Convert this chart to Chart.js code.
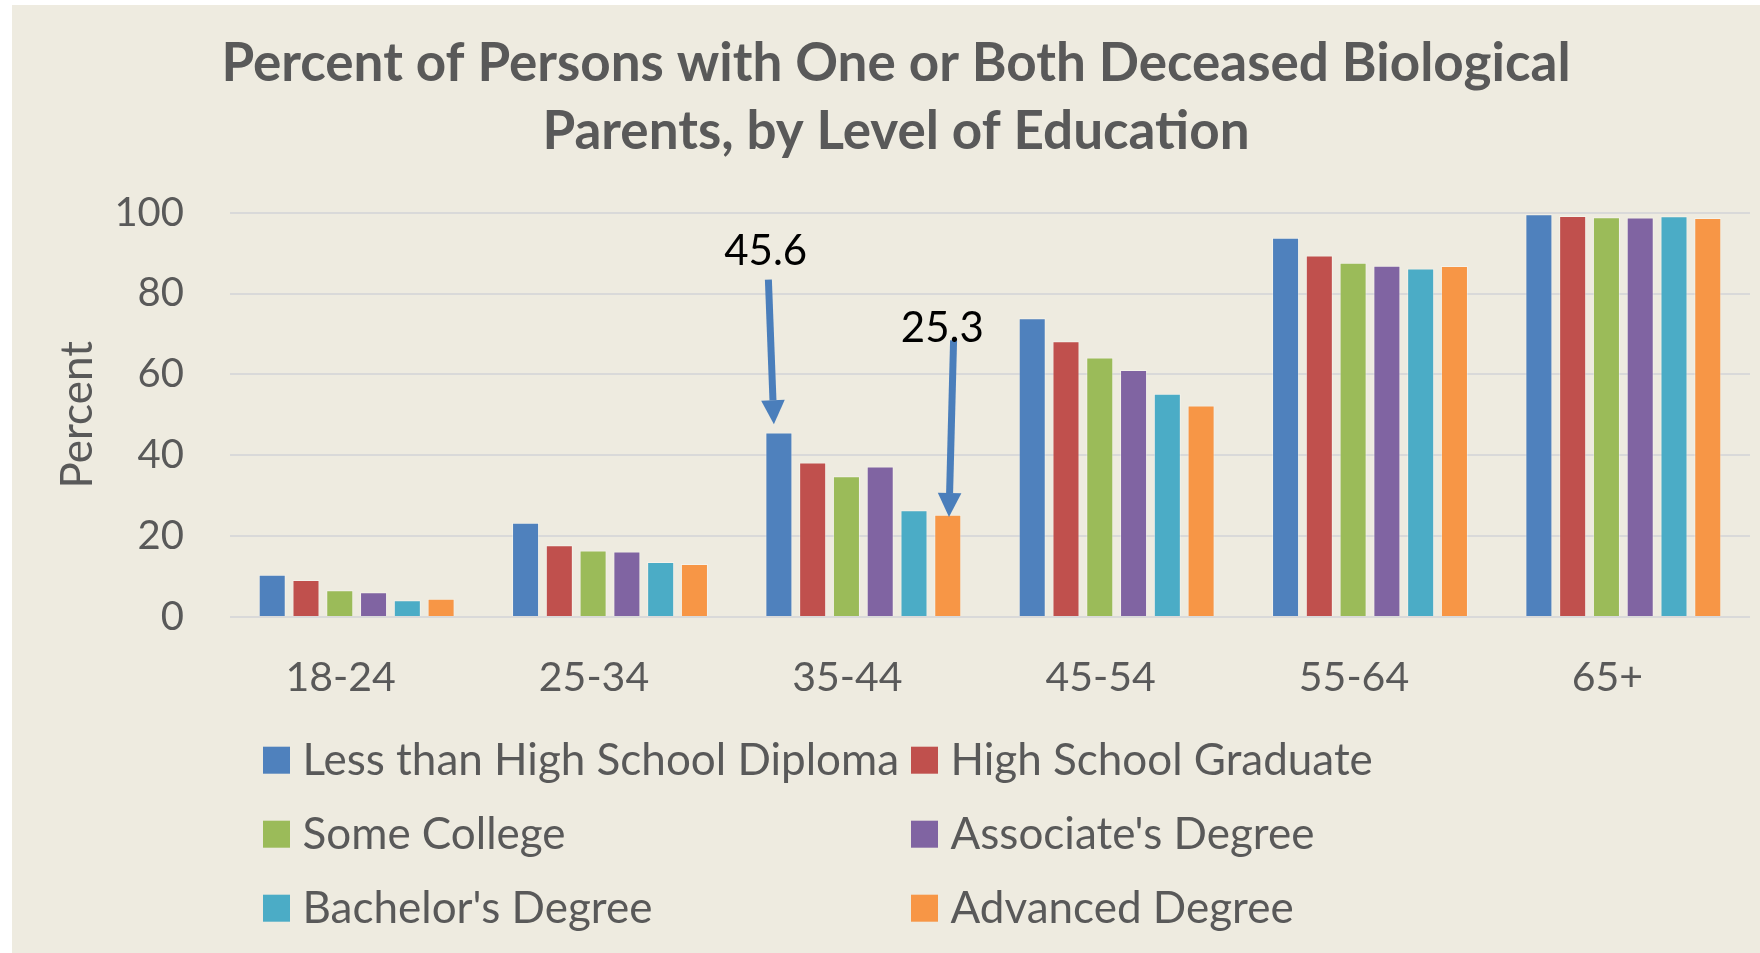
<!DOCTYPE html>
<html>
<head>
<meta charset="utf-8">
<script src="https://cdn.jsdelivr.net/npm/chart.js@4"></script>
<style>
  html, body { margin: 0; padding: 0; background: #ffffff; }
  #wrap { width: 1760px; height: 953px; position: relative; }
</style>
</head>
<body>
<div id="wrap"><canvas id="eduChart"></canvas></div>
<script>
// Data
const ageGroups = ['18-24', '25-34', '35-44', '45-54', '55-64', '65+'];
const lessThanHS = [10.4, 23.3, 45.6, 73.9, 93.8, 99.6];
const hsGraduate = [9.1, 17.7, 38.2, 68.2, 89.4, 99.2];
const someCollege = [6.6, 16.4, 34.8, 64.2, 87.6, 98.9];
const associates = [6.1, 16.2, 37.2, 61.1, 86.9, 98.8];
const bachelors = [4.1, 13.6, 26.4, 55.2, 86.2, 99.1];
const advanced = [4.5, 13.1, 25.3, 52.3, 86.8, 98.7];
const yTicks = [0, 20, 40, 60, 80, 100];

const textGray = '#595959';
const bgColor = '#EEEBE0';

// background: beige panel with thin white edge on top/left
const bgPlugin = {
    id: 'bg',
    beforeDraw(chart) {
        const ctx = chart.ctx;
        ctx.save();
        ctx.fillStyle = '#ffffff';
        ctx.fillRect(0, 0, chart.width, chart.height);
        ctx.fillStyle = bgColor;
        ctx.fillRect(12, 5, chart.width - 12, chart.height - 5);
        ctx.restore();
    }
};

// two-column legend under the axis
const gridLegend = {
    id: 'gridLegend',
    afterDraw(chart) {
        const ctx = chart.ctx;
        const cols = [263, 911];
        const top = chart.chartArea.bottom + 143.3;
        ctx.save();
        ctx.font = '44px Lato';
        ctx.fillStyle = textGray;
        ctx.textBaseline = 'middle';
        chart.data.datasets.forEach((ds, i) => {
            const x = cols[i % 2];
            const y = top + Math.floor(i / 2) * 74;
            ctx.fillStyle = ds.backgroundColor;
            ctx.fillRect(x, y - 13.5, 27, 27);
            ctx.fillStyle = textGray;
            ctx.fillText(ds.label, x + 39.5, y + 1);
        });
        ctx.restore();
    }
};

// callout arrows pointing at two bars
const callouts = [
    { dataset: 0, index: 2, tail: [-10.5, -153], tip: [-5, -8.3], label: [-13.2, -181.3] },
    { dataset: 5, index: 2, tail: [5.8, -174.3], tip: [1.2, 2.4], label: [-5.5, -186.3] }
];
const calloutPlugin = {
    id: 'callouts',
    afterDatasetsDraw(chart) {
        const ctx = chart.ctx;
        ctx.save();
        callouts.forEach(c => {
            const bar = chart.getDatasetMeta(c.dataset).data[c.index];
            const val = chart.data.datasets[c.dataset].data[c.index];
            const tx = bar.x + c.tail[0], ty = bar.y + c.tail[1];
            const hx = bar.x + c.tip[0], hy = bar.y + c.tip[1];
            const ang = Math.atan2(hy - ty, hx - tx);
            const headLen = 24, headHalf = 11.8;
            const bx = hx - headLen * Math.cos(ang), by = hy - headLen * Math.sin(ang);
            ctx.strokeStyle = '#4A7EBB';
            ctx.fillStyle = '#4A7EBB';
            ctx.lineWidth = 7;
            ctx.beginPath();
            ctx.moveTo(tx, ty);
            ctx.lineTo(bx, by);
            ctx.stroke();
            ctx.beginPath();
            ctx.moveTo(hx, hy);
            ctx.lineTo(bx + headHalf * Math.sin(ang), by - headHalf * Math.cos(ang));
            ctx.lineTo(bx - headHalf * Math.sin(ang), by + headHalf * Math.cos(ang));
            ctx.closePath();
            ctx.fill();
            ctx.font = '42px Lato';
            ctx.fillStyle = '#000000';
            ctx.textAlign = 'center';
            ctx.textBaseline = 'middle';
            ctx.fillText(val.toFixed(1), bar.x + c.label[0], bar.y + c.label[1]);
        });
        ctx.restore();
    }
};

const series = [
    { label: 'Less than High School Diploma', data: lessThanHS, color: '#4F81BD' },
    { label: 'High School Graduate', data: hsGraduate, color: '#C0504D' },
    { label: 'Some College', data: someCollege, color: '#9BBB59' },
    { label: "Associate's Degree", data: associates, color: '#8064A2' },
    { label: "Bachelor's Degree", data: bachelors, color: '#4BACC6' },
    { label: 'Advanced Degree', data: advanced, color: '#F79646' }
];

const ctx = document.getElementById('eduChart').getContext('2d');
const eduChart = new Chart(ctx, {
    type: 'bar',
    data: {
        labels: ageGroups,
        datasets: series.map(s => ({
            label: s.label,
            data: s.data,
            backgroundColor: s.color,
            borderColor: 'rgba(255,255,255,0.35)',
            borderWidth: 1,
            categoryPercentage: 0.8,
            barPercentage: 0.8
        }))
    },
    options: {
        responsive: true,
        maintainAspectRatio: false,
        animation: false,
        layout: {
            padding: { top: 30, left: 42, right: 10, bottom: 222.3 }
        },
        plugins: {
            legend: { display: false },
            tooltip: { enabled: false },
            title: {
                display: true,
                text: ['Percent of Persons with One or Both Deceased Biological', 'Parents, by Level of Education'],
                color: textGray,
                font: { family: 'Lato', size: 53, weight: 'bold', lineHeight: 68 / 53 },
                padding: { top: 0, bottom: 46.7 }
            }
        },
        scales: {
            x: {
                grid: { display: false },
                border: { display: false },
                ticks: {
                    color: textGray,
                    font: { family: 'Lato', size: 41 },
                    padding: 28.3,
                    labelOffset: -16,
                    maxRotation: 0
                }
            },
            y: {
                min: 0,
                max: 100,
                afterFit(scale) { scale.width = 188; },
                afterBuildTicks(scale) { scale.ticks = yTicks.map(v => ({ value: v })); },
                grid: { color: '#D9D9D9', lineWidth: 2, drawTicks: false },
                border: { display: false },
                ticks: {
                    color: textGray,
                    font: { family: 'Lato', size: 40 },
                    padding: 46
                },
                title: {
                    display: true,
                    text: 'Percent',
                    color: textGray,
                    font: { family: 'Lato', size: 44 },
                    padding: { top: 9, bottom: 0 }
                }
            }
        }
    },
    plugins: [bgPlugin, calloutPlugin, gridLegend]
});
</script>
</body>
</html>
